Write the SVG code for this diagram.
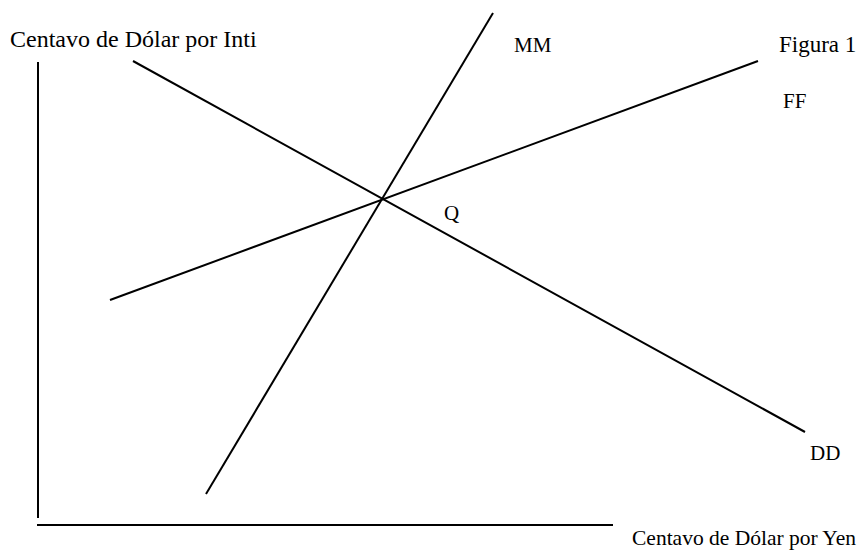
<svg xmlns="http://www.w3.org/2000/svg" width="861" height="551" viewBox="0 0 861 551">
<style>
.ln{stroke:#000;stroke-width:2;fill:none;stroke-linecap:butt}
.t{font-family:"Liberation Serif","Times New Roman",serif;font-size:21px;fill:#000}
</style>
<rect width="861" height="551" fill="#fff"/>
<g id="axes">
<line class="ln" x1="38" y1="62" x2="38" y2="518"/>
<line class="ln" x1="37" y1="525" x2="613" y2="525"/>
<text class="t" x="10" y="47" style="font-size:24px">Centavo de Dólar por Inti</text>
<text class="t" x="632" y="545" style="font-size:21.5px">Centavo de Dólar por Yen</text>
</g>
<g id="connectors">
<line id="DD" class="ln" x1="133" y1="61" x2="805" y2="432"/>
<line id="FF" class="ln" x1="110" y1="300" x2="758" y2="61"/>
<line id="MM" class="ln" x1="206" y1="494" x2="493" y2="13"/>
</g>
<g id="labels">
<text class="t" x="514" y="52">MM</text>
<text class="t" x="779" y="52" style="font-size:23px">Figura 1</text>
<text class="t" x="783" y="108">FF</text>
<text class="t" x="444" y="220">Q</text>
<text class="t" x="810" y="460">DD</text>
</g>
</svg>
